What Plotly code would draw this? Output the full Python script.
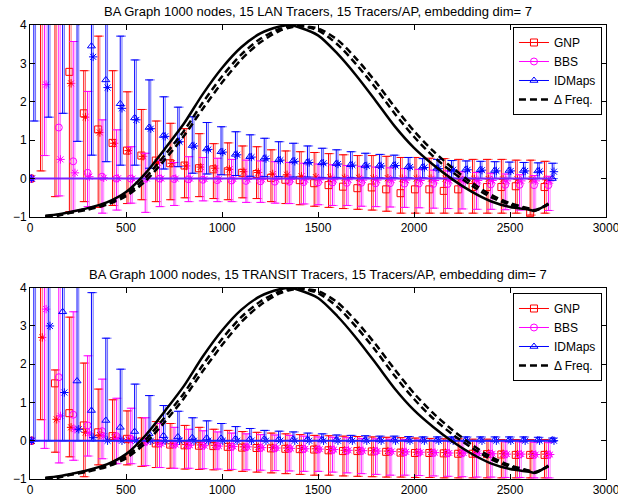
import plotly.graph_objects as go

# ---------------- data ----------------
TITLE_TOP = "BA Graph 1000 nodes, 15 LAN Tracers, 15 Tracers/AP, embedding dim= 7"
TITLE_BOT = "BA Graph 1000 nodes, 15 TRANSIT Tracers, 15 Tracers/AP, embedding dim= 7"

X_TICKS = [0, 500, 1000, 1500, 2000, 2500, 3000]
Y_TICKS = [-1, 0, 1, 2, 3, 4]

BBS_X = [0, 75, 150, 225, 300, 375, 450, 525, 600, 675,
         750, 825, 900, 975, 1050, 1125, 1200, 1275, 1350, 1425,
         1500, 1575, 1650, 1725, 1800, 1875, 1950, 2025, 2100, 2175,
         2250, 2325, 2400, 2475, 2550, 2625, 2700]
GNP_X = [0, 55, 130, 205, 280, 355, 430, 505, 580, 655,
         730, 805, 880, 955, 1030, 1105, 1180, 1255, 1330, 1405,
         1480, 1555, 1630, 1705, 1780, 1855, 1930, 2005, 2080, 2155,
         2230, 2305, 2380, 2455, 2530, 2605, 2680]
IDM_X = [0, 20, 95, 170, 245, 320, 395, 470, 545, 620,
         695, 770, 845, 920, 995, 1070, 1145, 1220, 1295, 1370,
         1445, 1520, 1595, 1670, 1745, 1820, 1895, 1970, 2045, 2120,
         2195, 2270, 2345, 2420, 2495, 2570, 2645, 2720]

# ---- top (LAN) ----
BBS_TOP_MEAN = [0, 4.6, 1.33, 0.45, 0.15, 0.05, 0.0, 0.0, 0.0, 0.0,
                -0.01, -0.02, -0.03, -0.04, -0.05, -0.06, -0.07, -0.08, -0.08, -0.09,
                -0.10, -0.10, -0.11, -0.11, -0.12, -0.12, -0.13, -0.13, -0.14, -0.14,
                -0.15, -0.15, -0.15, -0.16, -0.16, -0.17, -0.17]
BBS_TOP_MED = [0, 2.45, 0.50, 0.15, 0.05, 0.02, 0.01, 0.0, 0.0, 0.0,
               0.0, 0.0, -0.01, -0.01, -0.01, -0.02, -0.02, -0.02, -0.02, -0.03,
               -0.03, -0.03, -0.03, -0.04, -0.04, -0.04, -0.04, -0.05, -0.05, -0.05,
               -0.05, -0.05, -0.05, -0.06, -0.06, -0.06, -0.06]
BBS_TOP_LO = [0, 0.6, -0.45, -0.85, -0.73, -0.9, -0.82, -0.64, -0.88, -0.73,
              -0.7, -0.6, -0.58, -0.6, -0.6, -0.62, -0.62, -0.64, -0.65, -0.66,
              -0.68, -0.7, -0.7, -0.72, -0.73, -0.74, -0.75, -0.76, -0.77, -0.78,
              -0.79, -0.8, -0.8, -0.81, -0.82, -0.82, -0.83]
BBS_TOP_HI = [0, 6.0, 5.0, 3.57, 2.27, 1.53, 1.27, 0.83, 0.66, 0.48,
              0.42, 0.57, 0.55, 0.53, 0.5, 0.48, 0.46, 0.44, 0.42, 0.4,
              0.38, 0.36, 0.34, 0.32, 0.3, 0.28, 0.26, 0.24, 0.22, 0.2,
              0.18, 0.16, 0.14, 0.12, 0.1, 0.08, 0.06]

GNP_TOP_MEAN = [0, 5.5, 4.6, 2.78, 1.70, 1.28, 0.93, 0.73, 0.60, 0.47,
                0.40, 0.34, 0.27, 0.24, 0.19, 0.15, 0.12, 0.02, -0.03, -0.04,
                -0.12, -0.17, -0.21, -0.25, -0.23, -0.28, -0.38, -0.28, -0.28, -0.32,
                -0.28, -0.22, -0.22, -0.22, -0.20, -0.90, -0.22]
GNP_TOP_MED = [0, 4.5, 4.3, 2.48, 1.60, 1.20, 0.92, 0.73, 0.58, 0.42,
               0.40, 0.33, 0.30, 0.27, 0.24, 0.18, 0.16, 0.12, 0.10, 0.06,
               0.04, 0.03, 0.02, 0.02, 0.01, 0.01, 0.0, 0.0, 0.0, 0.0,
               -0.01, -0.01, -0.01, -0.02, -0.02, -0.02, -0.03]
GNP_TOP_LO = [0, 0.2, -0.47, -0.86, -0.6, -0.75, -0.7, -0.65, -0.55, -0.6,
              -0.55, -0.5, -0.47, -0.52, -0.55, -0.5, -0.52, -0.6, -0.65, -0.68,
              -0.72, -0.75, -0.78, -0.8, -0.82, -0.85, -0.9, -0.9, -0.9, -0.9,
              -0.9, -0.9, -0.9, -0.9, -0.9, -0.95, -0.9]
GNP_TOP_HI = [0, 8, 8, 6, 2.81, 3.71, 2.81, 2.26, 1.80, 1.50,
              1.44, 1.3, 1.17, 0.91, 0.93, 0.85, 0.83, 0.75, 0.72, 0.7,
              0.68, 0.65, 0.62, 0.6, 0.6, 0.58, 0.55, 0.55, 0.53, 0.52,
              0.5, 0.5, 0.5, 0.5, 0.48, 0.48, 0.45]

IDM_TOP_MEAN = [0, 6.5, 6.0, 5.2, 4.4, 3.45, 2.57, 1.95, 1.58, 1.33,
                1.12, 0.98, 0.86, 0.77, 0.70, 0.63, 0.57, 0.53, 0.49, 0.46,
                0.43, 0.41, 0.39, 0.36, 0.34, 0.34, 0.35, 0.31, 0.30, 0.27,
                0.24, 0.24, 0.23, 0.21, 0.21, 0.21, 0.20, 0.0]
IDM_TOP_MED = [0, 6.0, 5.5, 4.8, 4.1, 3.17, 2.37, 1.83, 1.53, 1.30,
               1.10, 0.96, 0.85, 0.76, 0.69, 0.62, 0.56, 0.52, 0.48, 0.45,
               0.42, 0.40, 0.38, 0.35, 0.33, 0.33, 0.34, 0.30, 0.29, 0.26,
               0.23, 0.23, 0.22, 0.20, 0.20, 0.20, 0.19, 0.18]
IDM_TOP_LO = [0, 1.5, 1.6, 1.7, 0.97, 0.61, 0.44, 0.35, 0.35, 0.27,
              0.25, 0.31, 0.14, 0.12, 0.1, 0.08, 0.06, 0.05, 0.05, 0.04,
              0.04, 0.03, 0.03, 0.03, 0.02, 0.02, 0.02, 0.02, 0.02, 0.01,
              0.01, 0.01, 0.0, 0.0, 0.0, 0.0, 0.0, 0.0]
IDM_TOP_HI = [0, 9, 9, 9, 8, 7, 5, 3.71, 3.09, 2.57,
              2.13, 1.86, 1.61, 1.46, 1.35, 1.22, 1.14, 1.05, 0.96, 0.92,
              0.85, 0.79, 0.75, 0.7, 0.66, 0.63, 0.61, 0.55, 0.52, 0.5,
              0.47, 0.46, 0.45, 0.44, 0.43, 0.42, 0.41, 0.4]

# ---- bottom (TRANSIT) ----
BBS_BOT_MEAN = [0, 4.5, 1.66, 0.68, 0.40, 0.25, 0.12, 0.05, -0.02, -0.07,
                -0.10, -0.12, -0.13, -0.14, -0.16, -0.17, -0.19, -0.20, -0.21, -0.22,
                -0.23, -0.24, -0.26, -0.27, -0.28, -0.29, -0.30, -0.31, -0.32, -0.33,
                -0.33, -0.34, -0.35, -0.36, -0.36, -0.37, -0.37]
BBS_BOT_MED = [0, 3.44, 0.65, 0.30, 0.20, 0.12, 0.06, 0.02, -0.03, -0.08,
               -0.10, -0.12, -0.13, -0.14, -0.15, -0.16, -0.18, -0.19, -0.20, -0.21,
               -0.22, -0.23, -0.25, -0.26, -0.27, -0.28, -0.29, -0.30, -0.31, -0.32,
               -0.32, -0.33, -0.34, -0.35, -0.35, -0.36, -0.36]
BBS_BOT_LO = [0, -0.2, -0.58, -0.51, -0.4, -0.47, -0.6, -0.6, -0.65, -0.7,
              -0.72, -0.72, -0.73, -0.74, -0.75, -0.76, -0.77, -0.78, -0.79, -0.8,
              -0.8, -0.82, -0.84, -0.86, -0.88, -0.9, -0.9, -0.91, -0.92, -0.93,
              -0.94, -0.95, -0.95, -0.96, -0.96, -0.97, -0.97]
BBS_BOT_HI = [0, 8, 4.5, 3.37, 2.22, 1.61, 1.11, 0.85, 0.6, 0.45,
              0.35, 0.3, 0.26, 0.23, 0.2, 0.18, 0.16, 0.15, 0.14, 0.12,
              0.1, 0.09, 0.08, 0.06, 0.05, 0.04, 0.03, 0.02, 0.01, 0.0,
              0.0, -0.01, -0.02, -0.03, -0.03, -0.04, -0.05]

GNP_BOT_MEAN = [0, 5.0, 1.50, 0.72, 0.40, 0.22, 0.12, 0.05, -0.02, -0.07,
                -0.10, -0.12, -0.13, -0.14, -0.16, -0.18, -0.19, -0.20, -0.21, -0.22,
                -0.23, -0.25, -0.27, -0.27, -0.28, -0.29, -0.31, -0.32, -0.32, -0.33,
                -0.34, -0.34, -0.35, -0.36, -0.37, -0.37, -0.37]
GNP_BOT_MED = [0, 2.70, 0.56, 0.35, 0.22, 0.15, 0.08, 0.03, -0.02, -0.06,
               -0.08, -0.10, -0.11, -0.12, -0.14, -0.16, -0.17, -0.18, -0.19, -0.20,
               -0.21, -0.23, -0.25, -0.25, -0.26, -0.27, -0.29, -0.30, -0.30, -0.31,
               -0.32, -0.32, -0.33, -0.34, -0.35, -0.35, -0.35]
GNP_BOT_LO = [0, 0.55, -0.3, -0.42, -0.94, -0.63, -0.6, -0.63, -0.67, -0.7,
              -0.72, -0.74, -0.75, -0.76, -0.78, -0.8, -0.82, -0.84, -0.86, -0.88,
              -0.9, -0.9, -0.92, -0.93, -0.94, -0.95, -0.95, -0.96, -0.96, -0.97,
              -0.97, -0.97, -0.97, -0.97, -0.97, -0.97, -0.97]
GNP_BOT_HI = [0, 8, 1.85, 3.23, 2.03, 1.35, 1.07, 0.78, 0.6, 0.5,
              0.45, 0.4, 0.35, 0.3, 0.27, 0.24, 0.22, 0.2, 0.18, 0.16,
              0.14, 0.13, 0.12, 0.11, 0.1, 0.09, 0.08, 0.07, 0.06, 0.05,
              0.05, 0.04, 0.04, 0.03, 0.03, 0.03, 0.03]

IDM_BOT_MEAN = [0, 6.5, 5.0, 3.37, 1.56, 0.79, 0.53, 0.35, 0.24, 0.18,
                0.13, 0.10, 0.08, 0.07, 0.06, 0.05, 0.04, 0.04, 0.03, 0.03,
                0.03, 0.02, 0.02, 0.02, 0.02, 0.02, 0.02, 0.02, 0.02, 0.02,
                0.02, 0.02, 0.02, 0.02, 0.02, 0.02, 0.02, 0.02]
IDM_BOT_MED = [0, 4.5, 3.0, 1.26, 0.30, 0.08, 0.0, 0.0, 0.0, 0.0,
               0.0, 0.0, 0.0, 0.0, 0.0, 0.0, 0.0, 0.0, 0.0, 0.0,
               0.0, 0.0, 0.0, 0.0, 0.0, 0.0, 0.0, 0.0, 0.0, 0.0,
               0.0, 0.0, 0.0, 0.0, 0.0, 0.0, 0.0, 0.0]
IDM_BOT_LO = [0, 0, 0, 0, 0, 0, 0, 0, 0, 0,
              0, 0, 0, 0, 0, 0, 0, 0, 0, 0,
              0, 0, 0, 0, 0, 0, 0, 0, 0, 0,
              0, 0, 0, 0, 0, 0, 0, 0]
IDM_BOT_HI = [0, 9, 9, 9, 6, 3.87, 2.68, 1.87, 1.48, 1.18,
              0.92, 0.77, 0.6, 0.52, 0.45, 0.37, 0.32, 0.27, 0.25, 0.23,
              0.2, 0.18, 0.15, 0.14, 0.13, 0.12, 0.12, 0.11, 0.1, 0.1,
              0.1, 0.1, 0.1, 0.1, 0.1, 0.1, 0.09, 0.07]

# ---- frequency curves (same in both panels) ----
CURVE_X = [80, 150, 200, 300, 400, 500, 600, 700, 800, 900,
           1000, 1100, 1200, 1300, 1350, 1400, 1500, 1600, 1700, 1800,
           1900, 2000, 2100, 2200, 2300, 2400, 2500, 2600, 2630, 2700]
FREQ_SOLID = [-0.97, -0.93, -0.88, -0.77, -0.62, -0.35, 0.13, 0.76, 1.42, 2.20,
              2.88, 3.42, 3.78, 3.96, 4.00, 3.94, 3.73, 3.26, 2.68, 2.03,
              1.36, 0.80, 0.36, -0.02, -0.34, -0.59, -0.74, -0.81, -0.84, -0.65]
FREQ_DASH_A = [-0.98, -0.95, -0.89, -0.79, -0.65, -0.41, 0.02, 0.60, 1.23, 1.98,
               2.66, 3.23, 3.64, 3.90, 3.96, 3.98, 3.86, 3.50, 2.97, 2.36,
               1.69, 1.09, 0.58, 0.17, -0.18, -0.48, -0.68, -0.79, -0.83, -0.66]
FREQ_DASH_B = [-0.99, -0.96, -0.90, -0.81, -0.68, -0.46, -0.07, 0.48, 1.10, 1.82,
               2.50, 3.10, 3.55, 3.85, 3.93, 3.97, 3.91, 3.62, 3.12, 2.52,
               1.86, 1.24, 0.72, 0.28, -0.10, -0.42, -0.64, -0.78, -0.82, -0.67]

ZERO_LINE_X = [0, 2725]
ZERO_LINE_Y = [0, 0]

LEGEND_NAMES = ["GNP", "BBS", "IDMaps", "\u0394 Freq."]

# ---------------- styles ----------------
RED, RED_L = "#ff0000", "#ff6a6a"
MAG, MAG_L = "#ff00ff", "#ff85ff"
BLU, BLU_L = "#0000ff", "#6a6aff"
FONT = "Liberation Sans, Arial, Helvetica, sans-serif"
BAR_SHIFT = 9

fig = go.Figure()


def add_method(xa, ya, x, mean, med, lo, hi, color, light, symbol):
    xs = [v + BAR_SHIFT for v in x]
    fig.add_trace(go.Scatter(
        x=xs, y=med, mode="markers", xaxis=xa, yaxis=ya, showlegend=False,
        hoverinfo="skip",
        marker=dict(symbol="asterisk-open", size=7, color=color,
                    line=dict(color=color, width=1)),
        error_y=dict(type="data", symmetric=False,
                     array=[max(h - m, 0) for h, m in zip(hi, med)],
                     arrayminus=[max(m - l, 0) for m, l in zip(med, lo)],
                     color=light, thickness=1, width=4)))
    fig.add_trace(go.Scatter(
        x=x, y=mean, mode="markers", xaxis=xa, yaxis=ya, showlegend=False,
        hoverinfo="skip",
        marker=dict(symbol=symbol, size=7, color=color,
                    line=dict(color=color, width=1)),
        error_y=dict(type="data", symmetric=False,
                     array=[max(h - m, 0) for h, m in zip(hi, mean)],
                     arrayminus=[max(m - l, 0) for m, l in zip(mean, lo)],
                     color=color, thickness=1, width=4)))


def add_panel(xa, ya, data, zero_color, legend_id):
    for (x, mean, med, lo, hi, c, cl, sym) in data:
        add_method(xa, ya, x, mean, med, lo, hi, c, cl, sym)
    fig.add_trace(go.Scatter(x=ZERO_LINE_X, y=ZERO_LINE_Y, mode="lines",
                             xaxis=xa, yaxis=ya, showlegend=False, hoverinfo="skip",
                             line=dict(color=zero_color, width=2)))
    fig.add_trace(go.Scatter(x=CURVE_X, y=FREQ_SOLID, mode="lines", xaxis=xa, yaxis=ya,
                             showlegend=False, hoverinfo="skip",
                             line=dict(color="black", width=2.5, shape="spline", smoothing=0.8)))
    for ys in (FREQ_DASH_A, FREQ_DASH_B):
        fig.add_trace(go.Scatter(x=CURVE_X, y=ys, mode="lines", xaxis=xa, yaxis=ya,
                                 showlegend=False, hoverinfo="skip",
                                 line=dict(color="black", width=2.5, dash="7px,4px",
                                           shape="spline", smoothing=0.8)))
    # legend entries
    for name, c, sym in zip(LEGEND_NAMES[:3], [RED, MAG, BLU],
                            ["square-open", "circle-open", "triangle-up-open"]):
        fig.add_trace(go.Scatter(x=[None], y=[None], mode="lines+markers", name=name,
                                 xaxis=xa, yaxis=ya, legend=legend_id,
                                 line=dict(color=c, width=1),
                                 marker=dict(symbol=sym, size=7, color=c,
                                             line=dict(color=c, width=1))))
    fig.add_trace(go.Scatter(x=[None], y=[None], mode="lines", name=LEGEND_NAMES[3],
                             xaxis=xa, yaxis=ya, legend=legend_id,
                             line=dict(color="black", width=2.5, dash="7px,4px")))


add_panel("x", "y", [
    (GNP_X, GNP_TOP_MEAN, GNP_TOP_MED, GNP_TOP_LO, GNP_TOP_HI, RED, RED_L, "square-open"),
    (BBS_X, BBS_TOP_MEAN, BBS_TOP_MED, BBS_TOP_LO, BBS_TOP_HI, MAG, MAG_L, "circle-open"),
    (IDM_X, IDM_TOP_MEAN, IDM_TOP_MED, IDM_TOP_LO, IDM_TOP_HI, BLU, BLU_L, "triangle-up-open"),
], "#7a22ff", "legend")

add_panel("x2", "y2", [
    (GNP_X, GNP_BOT_MEAN, GNP_BOT_MED, GNP_BOT_LO, GNP_BOT_HI, RED, RED_L, "square-open"),
    (BBS_X, BBS_BOT_MEAN, BBS_BOT_MED, BBS_BOT_LO, BBS_BOT_HI, MAG, MAG_L, "circle-open"),
    (IDM_X, IDM_BOT_MEAN, IDM_BOT_MED, IDM_BOT_LO, IDM_BOT_HI, BLU, BLU_L, "triangle-up-open"),
], "#2222ff", "legend2")

axis_common = dict(showgrid=False, zeroline=False, showline=True, linecolor="black",
                   linewidth=1, mirror="ticks", ticks="inside", ticklen=5,
                   tickcolor="black", tickwidth=1, automargin=False,
                   tickfont=dict(family=FONT, size=12, color="black"))

TOP_DOM = [0.5771, 1.0]
BOT_DOM = [0.0, 0.4214]

legend_common = dict(font=dict(family=FONT, size=12, color="black"),
                     bgcolor="white", bordercolor="black", borderwidth=1,
                     xanchor="left", yanchor="top", x=0.8385,
                     tracegroupgap=0, itemwidth=30)

fig.update_layout(
    width=618, height=499,
    margin=dict(l=30, r=12, t=25, b=20),
    paper_bgcolor="white", plot_bgcolor="white",
    font=dict(family=FONT, size=12, color="black"),
    xaxis=dict(domain=[0, 1], range=[0, 3000], tickvals=X_TICKS, anchor="y",
               ticklabeloverflow="allow", **axis_common),
    yaxis=dict(domain=TOP_DOM, range=[-1, 4], tickvals=Y_TICKS, anchor="x", **axis_common),
    xaxis2=dict(domain=[0, 1], range=[0, 3000], tickvals=X_TICKS, anchor="y2",
                ticklabeloverflow="allow", **axis_common),
    yaxis2=dict(domain=BOT_DOM, range=[-1, 4], tickvals=Y_TICKS, anchor="x2", **axis_common),
    legend=dict(y=0.9956, **legend_common),
    legend2=dict(y=0.4097, **legend_common),
    annotations=[
        dict(text=TITLE_TOP, xref="paper", yref="paper", x=0.5, y=TOP_DOM[1],
             xanchor="center", yanchor="bottom", yshift=4, showarrow=False,
             font=dict(family=FONT, size=13, color="black")),
        dict(text=TITLE_BOT, xref="paper", yref="paper", x=0.5, y=BOT_DOM[1],
             xanchor="center", yanchor="bottom", yshift=4, showarrow=False,
             font=dict(family=FONT, size=13, color="black")),
    ],
)

fig.write_html("out.html",
               config={"displayModeBar": False},
               post_script="document.body.style.margin='0px';"
                           "document.body.style.padding='0px';"
                           "document.body.style.overflow='hidden';")
